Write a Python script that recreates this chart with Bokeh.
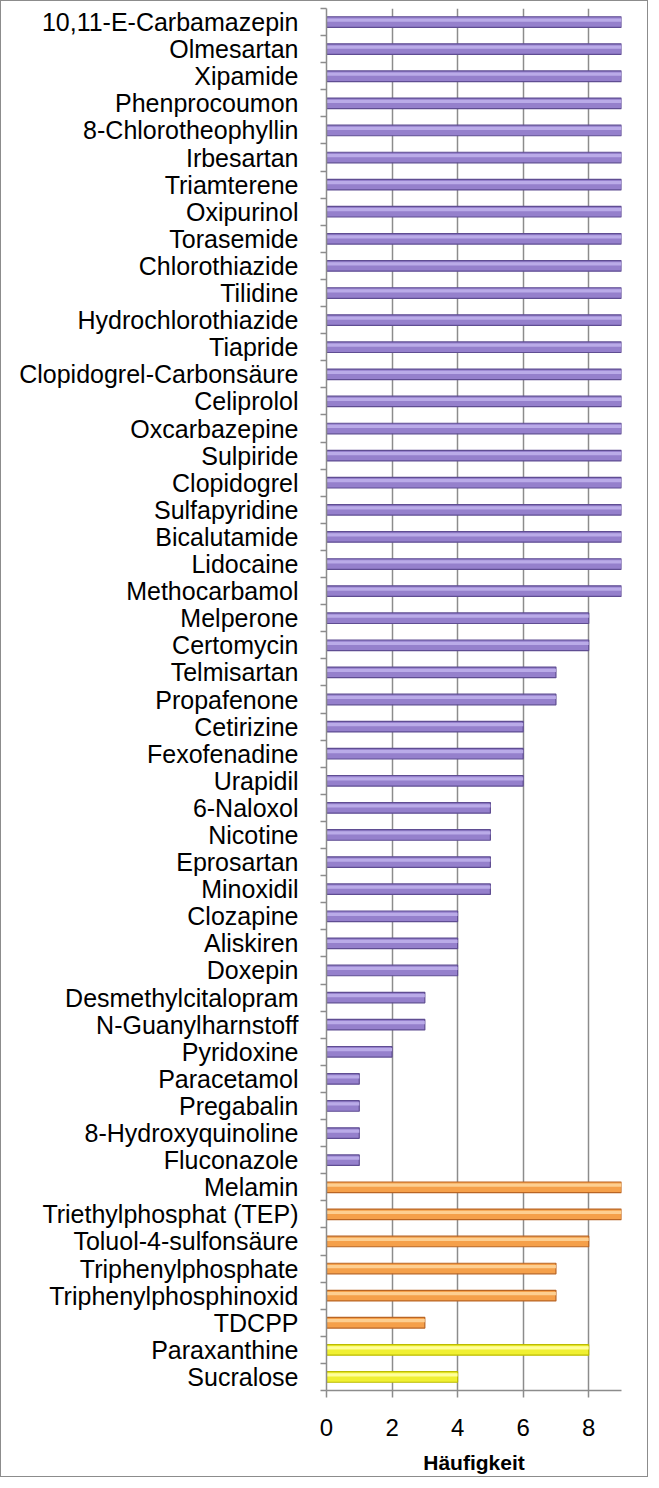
from bokeh.plotting import figure
from bokeh.models import Range1d, FixedTicker, ColumnDataSource
from bokeh.embed import file_html
from bokeh.resources import INLINE

purple_names = ["10,11-E-Carbamazepin", "Olmesartan", "Xipamide", "Phenprocoumon",
                "8-Chlorotheophyllin", "Irbesartan", "Triamterene", "Oxipurinol",
                "Torasemide", "Chlorothiazide", "Tilidine", "Hydrochlorothiazide",
                "Tiapride", "Clopidogrel-Carbonsäure", "Celiprolol", "Oxcarbazepine",
                "Sulpiride", "Clopidogrel", "Sulfapyridine", "Bicalutamide", "Lidocaine",
                "Methocarbamol", "Melperone", "Certomycin", "Telmisartan", "Propafenone",
                "Cetirizine", "Fexofenadine", "Urapidil", "6-Naloxol", "Nicotine",
                "Eprosartan", "Minoxidil", "Clozapine", "Aliskiren", "Doxepin",
                "Desmethylcitalopram", "N-Guanylharnstoff", "Pyridoxine", "Paracetamol",
                "Pregabalin", "8-Hydroxyquinoline", "Fluconazole"]
purple_values = [9, 9, 9, 9, 9, 9, 9, 9, 9, 9, 9, 9, 9, 9, 9, 9, 9, 9, 9, 9, 9, 9,
                 8, 8, 7, 7, 6, 6, 6, 5, 5, 5, 5, 4, 4, 4, 3, 3, 2, 1, 1, 1, 1]
orange_names = ["Melamin", "Triethylphosphat (TEP)", "Toluol-4-sulfonsäure",
                "Triphenylphosphate", "Triphenylphosphinoxid", "TDCPP"]
orange_values = [9, 9, 8, 7, 7, 3]
yellow_names = ["Paraxanthine", "Sucralose"]
yellow_values = [8, 4]
x_ticks = [0, 2, 4, 6, 8]

groups = [
    (purple_names, purple_values, "#9580cc", "#5f4d92", "#bcade9"),
    (orange_names, orange_values, "#f5a04a", "#b96524", "#fdd295"),
    (yellow_names, yellow_values, "#f0f032", "#bcbc00", "#ffffa0"),
]

all_names = purple_names + orange_names + yellow_names
n = len(all_names)
centers = [i + 0.5 for i in range(n)]
bounds = list(range(n + 1))

p = figure(width=648, height=1477, x_range=Range1d(0, 9), y_range=Range1d(n, 0),
           output_backend="svg", toolbar_location=None,
           min_border_left=325, min_border_right=28, min_border_top=7,
           min_border_bottom=88, background_fill_color="white",
           border_fill_color="white")
p.outline_line_color = None
p.styles = {"border": "1.5px solid #8c8c8c"}

start = 0
for names, vals, fill, line, hi in groups:
    ys = centers[start:start + len(names)]
    start += len(names)
    src = ColumnDataSource(dict(y=ys, v=vals,
                                yh=[y - 0.075 for y in ys]))
    p.hbar(y="y", right="v", left=0, height=0.39, source=src,
           fill_color=fill, line_color=line, line_width=1.2)
    p.hbar(y="yh", right="v", left=0, height=0.12, source=src,
           fill_color=hi, line_color=None, fill_alpha=0.95)

# y axis
p.yaxis.ticker = FixedTicker(ticks=centers, minor_ticks=bounds)
p.yaxis.major_label_overrides = {c: nm for c, nm in zip(centers, all_names)}
p.yaxis.major_tick_line_color = None
p.yaxis.major_tick_out = 0
p.yaxis.major_tick_in = 0
p.yaxis.minor_tick_in = 0
p.yaxis.minor_tick_out = 6
p.yaxis.minor_tick_line_color = "#8c8c8c"
p.yaxis.minor_tick_line_width = 1.5
p.yaxis.axis_line_color = "#8c8c8c"
p.yaxis.axis_line_width = 1.5
p.yaxis.major_label_standoff = 22
p.yaxis.major_label_text_font = "Liberation Sans"
p.yaxis.major_label_text_font_size = "25px"
p.yaxis.major_label_text_color = "black"

# x axis
p.xaxis.ticker = FixedTicker(ticks=x_ticks)
p.xaxis.minor_tick_line_color = None
p.xaxis.major_tick_in = 0
p.xaxis.major_tick_out = 7
p.xaxis.major_tick_line_color = "#8c8c8c"
p.xaxis.major_tick_line_width = 1.5
p.xaxis.axis_line_color = "#8c8c8c"
p.xaxis.axis_line_width = 1.5
p.xaxis.major_label_standoff = 21
p.xaxis.major_label_text_font = "Liberation Sans"
p.xaxis.major_label_text_font_size = "24px"
p.xaxis.major_label_text_color = "black"
p.xaxis.axis_label = "Häufigkeit"
p.xaxis.axis_label_text_font = "Liberation Sans"
p.xaxis.axis_label_text_font_size = "21px"
p.xaxis.axis_label_text_font_style = "bold"
p.xaxis.axis_label_text_color = "black"
p.xaxis.axis_label_standoff = 12

p.ygrid.grid_line_color = None
p.xgrid.ticker = FixedTicker(ticks=x_ticks)
p.xgrid.grid_line_color = "#8c8c8c"
p.xgrid.grid_line_width = 1.5

open("out.html", "w").write(file_html(p, INLINE))
